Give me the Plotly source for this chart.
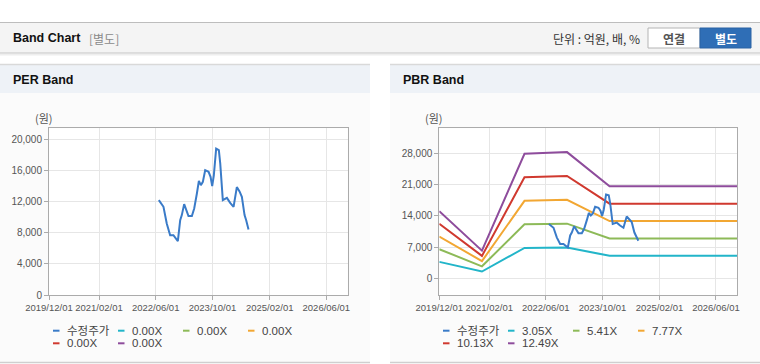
import plotly.graph_objects as go

W, H = 760, 364

# ---------------- data ----------------
PRICE_NAME = "수정주가"
PRICE_DATES = ["2022-06-28", "2022-08-07", "2022-09-04", "2022-10-03", "2022-10-31", "2022-12-08",
               "2022-12-28", "2023-01-11", "2023-01-31", "2023-02-23", "2023-03-09", "2023-04-07",
               "2023-04-27", "2023-05-20", "2023-06-06", "2023-06-23", "2023-07-10", "2023-07-30",
               "2023-08-28", "2023-09-14", "2023-09-28", "2023-10-12", "2023-11-01", "2023-11-24",
               "2023-12-06", "2023-12-28", "2024-01-17", "2024-02-01", "2024-02-29", "2024-03-29",
               "2024-04-26", "2024-05-19", "2024-06-08", "2024-07-01", "2024-07-15", "2024-08-04"]
PRICE_VALUES = [12200, 11350, 9200, 7700, 7700, 6940,
                9630, 10280, 11690, 10700, 10150, 10150,
                11130, 13060, 14680, 14130, 14560, 16060,
                15850, 15200, 14000, 15400, 18840, 18640,
                16910, 12200, 12420, 12500, 11850, 11350,
                13880, 13330, 12630, 10280, 9630, 8440]

PER_BAND_NAMES = ["0.00X", "0.00X", "0.00X", "0.00X", "0.00X"]

PBR_BAND_NAMES = ["3.05X", "5.41X", "7.77X", "10.13X", "12.49X"]
BAND_DATES = ["2019-12-01", "2020-12-01", "2021-12-01", "2022-06-01", "2022-12-01", "2023-12-01", "2026-12-01"]
PBR_305 = [3690, 1520, 6830, 6860, 6920, 5050, 5050]
PBR_541 = [6540, 2690, 12120, 12170, 12280, 8950, 8950]
PBR_777 = [9390, 3860, 17400, 17480, 17640, 12860, 12860]
PBR_1013 = [12240, 5030, 22690, 22790, 23000, 16770, 16770]
PBR_1249 = [15090, 6210, 27980, 28100, 28350, 20670, 20670]
PBR_BANDS = [PBR_305, PBR_541, PBR_777, PBR_1013, PBR_1249]

TICK_DATES = ["2019-12-01", "2021-02-01", "2022-06-01", "2023-10-01", "2025-02-01", "2026-06-01"]
TICK_TEXT = ["2019/12/01", "2021/02/01", "2022/06/01", "2023/10/01", "2025/02/01", "2026/06/01"]
X_RANGE = ["2019-12-01", "2026-12-01"]

PRICE_COLOR = "#3a7bc8"
BAND_COLORS = ["#22b5c9", "#8dba58", "#f2a733", "#d0392f", "#8e4c9c"]

FONT = "Liberation Sans, Noto Sans CJK KR, sans-serif"
KFONT = "Noto Sans CJK KR, Liberation Sans, sans-serif"


def X(px):
    return px / W


def Y(py):
    return 1 - py / H


fig = go.Figure()

# PER chart (left)
fig.add_trace(go.Scatter(x=PRICE_DATES, y=PRICE_VALUES, name=PRICE_NAME, mode="lines",
                         line=dict(color=PRICE_COLOR, width=2), xaxis="x", yaxis="y"))
for nm, c in zip(PER_BAND_NAMES, BAND_COLORS):
    fig.add_trace(go.Scatter(x=[], y=[], name=nm, mode="lines",
                             line=dict(color=c, width=2), xaxis="x", yaxis="y"))

# PBR chart (right)
for nm, c, vals in zip(PBR_BAND_NAMES, BAND_COLORS, PBR_BANDS):
    fig.add_trace(go.Scatter(x=BAND_DATES, y=vals, name=nm, mode="lines",
                             line=dict(color=c, width=2), xaxis="x2", yaxis="y2"))
fig.add_trace(go.Scatter(x=PRICE_DATES, y=PRICE_VALUES, name=PRICE_NAME, mode="lines",
                         line=dict(color=PRICE_COLOR, width=2), xaxis="x2", yaxis="y2"))

ydom = [Y(295), Y(128.3)]
common_x = dict(type="date", range=X_RANGE, tickvals=TICK_DATES, ticktext=TICK_TEXT, tickangle=0,
                showgrid=True, gridcolor="#e6e6e6", showline=True, mirror=True, automargin=False,
                linecolor="#ababab", linewidth=1, ticks="outside", ticklen=4, tickcolor="#ababab",
                tickfont=dict(family=FONT, size=9.5, color="#555"), fixedrange=True)
common_y = dict(showgrid=True, gridcolor="#e6e6e6", showline=True, mirror=True, automargin=False,
                linecolor="#ababab", linewidth=1, ticks="outside", ticklen=4, tickcolor="#ababab",
                tickformat=",d", zeroline=False,
                tickfont=dict(family=FONT, size=10, color="#555"), fixedrange=True)

fig.update_layout(
    width=W, height=H, margin=dict(l=0, r=0, t=0, b=0, pad=0, autoexpand=False),
    paper_bgcolor="white", plot_bgcolor="white", showlegend=False,
    xaxis=dict(domain=[X(49), X(347.7)], anchor="y", **common_x),
    yaxis=dict(domain=ydom, anchor="x", range=[0, 21450], dtick=4000, tick0=0, **common_y),
    xaxis2=dict(domain=[X(439.3), X(737.3)], anchor="y2", **common_x),
    yaxis2=dict(domain=ydom, anchor="x2", range=[-3750, 33700], dtick=7000, tick0=0, **common_y),
)

shapes = []


def rect(x0, y0, x1, y1, fill, line=None, lw=0):
    shapes.append(dict(type="rect", xref="paper", yref="paper", x0=X(x0), x1=X(x1), y0=Y(y1), y1=Y(y0),
                       fillcolor=fill, line=dict(color=line or fill, width=lw), layer="below"))


def hline(x0, x1, y, color, w=1):
    shapes.append(dict(type="line", xref="paper", yref="paper", x0=X(x0), x1=X(x1), y0=Y(y), y1=Y(y),
                       line=dict(color=color, width=w), layer="below"))


# top header bar
rect(0, 22, 760, 53, "#f4f4f4")
hline(0, 760, 22.5, "#bdbdbd")
hline(0, 760, 53, "#c4c4c4")
hline(0, 760, 54, "#dcdcdc")
hline(0, 760, 55, "#eeeeee")

# buttons
rect(648, 28, 700, 48, "#ffffff", "#b4b4b4", 1)
rect(700, 28, 751, 48, "#2f6eb6", "#2a62a4", 1)

# panels
for px0, px1 in [(0, 370), (390, 760)]:
    rect(px0, 64, px1, 93, "#eef2f7")
    hline(px0, px1, 64.5, "#d9d9d9", 1.5)
    rect(px0, 93, px1, 362, "#fbfbfb")
    hline(px0, px1, 362.5, "#cfcfcf", 1.5)

# plot area backgrounds
rect(49, 128.3, 347.7, 295, "#ffffff")
rect(439.3, 128.3, 737.3, 295, "#ffffff")

annotations = []


def text(x, y, s, size=12, color="#333", anchor="left", family=KFONT, bold=False):
    if bold:
        s = "<b>" + s + "</b>"
    annotations.append(dict(xref="paper", yref="paper", x=X(x), y=Y(y), text=s, showarrow=False,
                            xanchor=anchor, yanchor="middle",
                            font=dict(size=size, color=color, family=family)))


text(11, 38.5, "Band Chart", 12.5, "#111", family=FONT, bold=True)
text(87, 38.5, "[별도]", 12, "#8a8a8a")
text(641.5, 38.5, "단위 : 억원, 배, %", 12, "#333", anchor="right")
text(674, 38.5, "연결", 12, "#555", anchor="center", bold=True)
text(725.5, 38.5, "별도", 12, "#ffffff", anchor="center", bold=True)

text(11, 80, "PER Band", 12.5, "#111", family=FONT, bold=True)
text(401, 80, "PBR Band", 12.5, "#111", family=FONT, bold=True)

text(44, 118, "(원)", 11, "#555", anchor="center")
text(434, 118, "(원)", 11, "#555", anchor="center")

# legends (built from series names / colours)
for base, names in [(0, [PRICE_NAME] + PER_BAND_NAMES), (390, [PRICE_NAME] + PBR_BAND_NAMES)]:
    colors = [PRICE_COLOR] + BAND_COLORS
    for i, (nm, c) in enumerate(zip(names, colors)):
        row, col = divmod(i, 4)
        lx = base + 53 + 65 * col
        ly = 330.7 + 12.6 * row
        hline(lx, lx + 6.5, ly, c, 2)
        text(lx + 11.5, ly, nm, 11.5, "#444", family=FONT)

fig.update_layout(shapes=shapes, annotations=annotations)

fig.write_html("out.html", config={"displayModeBar": False},
               post_script="document.body.style.margin='0';document.documentElement.style.overflow='hidden';")
